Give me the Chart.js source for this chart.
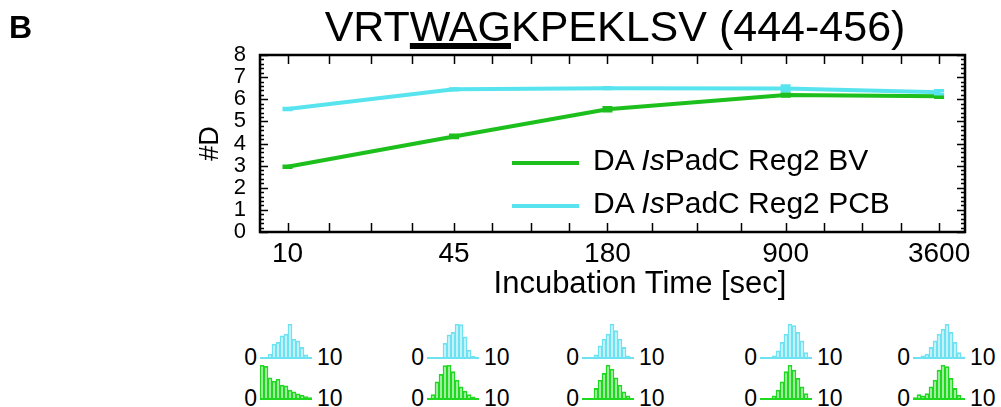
<!DOCTYPE html>
<html>
<head>
<meta charset="utf-8">
<script src="https://cdn.jsdelivr.net/npm/chart.js@4.4.1/dist/chart.umd.min.js"></script>
<style>
  body { margin: 0; background: #fff; font-family: "Liberation Sans", Arial, sans-serif; }
  #wrap { position: relative; width: 1001px; height: 407px; overflow: hidden; background: #fff; }
  #main { position: absolute; left: 0; top: 0; width: 1001px; height: 300px; }
  .t { position: absolute; white-space: nowrap; color: #000; line-height: 1; }
  .hist { position: absolute; }
  .sw { position: absolute; height: 4px; }
  #title u { text-decoration: underline; text-decoration-thickness: 6px; text-underline-offset: 2px; text-decoration-skip-ink: none; }
</style>
</head>
<body>
<div id="wrap">
  <div id="main"><canvas id="chart"></canvas></div>
  <div class="t" style="left:9px;top:11px;font-size:32px;font-weight:bold;">B</div>
  <div class="t" id="title" style="left:615px;top:5px;font-size:43px;transform:translateX(-50%);">VRT<u>WAG</u>KPEKLSV (444-456)</div>
  <div class="t" id="xtitle" style="left:640px;top:267px;font-size:31px;transform:translateX(-50%);">Incubation Time [sec]</div>
  <div id="legend"></div>
  <div id="hists"></div>
</div>
<script>
// données
const times = [10, 45, 180, 900, 3600];
const bvD = [2.95, 4.32, 5.55, 6.19, 6.13];
const bvErr = [0.03, 0.06, 0.08, 0.06, 0.05];
const pcbD = [5.56, 6.45, 6.5, 6.49, 6.32];
const pcbErr = [0.03, 0.03, 0.03, 0.12, 0.08];
const yLabels = [0, 1, 2, 3, 4, 5, 6, 7, 8];

// distributions isotopiques (relatives), une par temps
const histPCB = [
  [0, 0, 0.1, 0.4, 0.45, 0.65, 0.7, 1.0, 0.55, 0.5, 0.3, 0.08, 0],
  [0, 0, 0, 0, 0.42, 0.68, 0.75, 1.0, 0.98, 0.62, 0.22, 0.04, 0],
  [0, 0, 0, 0.08, 0.35, 0.55, 0.7, 1.0, 0.8, 0.55, 0.3, 0.05, 0],
  [0, 0, 0, 0.05, 0.2, 0.45, 0.7, 1.0, 0.95, 0.75, 0.5, 0.15, 0],
  [0, 0, 0.05, 0.1, 0.3, 0.5, 0.7, 0.85, 1.0, 0.75, 0.45, 0.15, 0.02]
];
const histBV = [
  [1.0, 0.96, 0.62, 0.52, 0.58, 0.4, 0.38, 0.25, 0.2, 0.14, 0.1, 0.06, 0.03],
  [0, 0.12, 0.5, 0.72, 0.98, 1.0, 0.8, 0.55, 0.35, 0.22, 0.12, 0.05, 0],
  [0, 0, 0, 0.3, 0.55, 0.75, 1.0, 0.88, 0.62, 0.4, 0.2, 0.08, 0],
  [0, 0, 0, 0.08, 0.25, 0.5, 0.8, 1.0, 0.85, 0.6, 0.35, 0.15, 0],
  [0.03, 0.12, 0.08, 0.15, 0.35, 0.55, 0.85, 1.0, 0.95, 0.6, 0.3, 0.1, 0]
];

const green = "#1dbf1d";
const cyan = "#58e4ee";
const histGreen = "#1fd81f";
const histCyan = "#6fe2f2";

// graduations mineures : 4 intervalles entre deux temps
const xTickValues = [];
for (let i = 0; i < times.length; i++) {
  xTickValues.push(times[i]);
  if (i < times.length - 1) {
    const a = Math.log10(times[i]), b = Math.log10(times[i + 1]);
    for (let k = 1; k < 4; k++) xTickValues.push(Math.pow(10, a + (b - a) * k / 4));
  }
}

const isInt = v => Math.abs(v - Math.round(v)) < 1e-6;

// cadre + graduations vers l'intérieur
const frameTicks = {
  id: "frameTicks",
  afterDatasetsDraw(chart) {
    const { ctx, chartArea: a, scales: { x, y } } = chart;
    ctx.save();
    ctx.strokeStyle = "#000";
    ctx.lineWidth = 1.5;
    ctx.beginPath();
    x.ticks.forEach(t => {
      const px = Math.round(x.getPixelForValue(t.value)) + 0.5;
      ctx.moveTo(px, a.bottom); ctx.lineTo(px, a.bottom - 9);
      ctx.moveTo(px, a.top); ctx.lineTo(px, a.top + 9);
    });
    y.ticks.forEach(t => {
      const py = Math.round(y.getPixelForValue(t.value)) + 0.5;
      const len = isInt(t.value) ? 8 : 4;
      ctx.moveTo(a.left, py); ctx.lineTo(a.left + len, py);
      ctx.moveTo(a.right, py); ctx.lineTo(a.right - len, py);
    });
    ctx.stroke();
    ctx.lineWidth = 2.5;
    ctx.strokeRect(a.left, a.top, a.width, a.height);
    ctx.restore();
  }
};

// barres d'erreur
const errorBars = {
  id: "errorBars",
  afterDatasetsDraw(chart) {
    const { ctx, scales: { x, y } } = chart;
    ctx.save();
    chart.data.datasets.forEach(ds => {
      ctx.strokeStyle = ds.borderColor;
      ctx.lineWidth = 3;
      ds.data.forEach((p, i) => {
        const e = ds.errors[i];
        const px = x.getPixelForValue(p.x);
        const y1 = y.getPixelForValue(p.y - e), y2 = y.getPixelForValue(p.y + e);
        ctx.beginPath();
        ctx.moveTo(px, y1); ctx.lineTo(px, y2);
        ctx.moveTo(px - 5, y1); ctx.lineTo(px + 5, y1);
        ctx.moveTo(px - 5, y2); ctx.lineTo(px + 5, y2);
        ctx.stroke();
      });
    });
    ctx.restore();
  }
};

new Chart(document.getElementById("chart"), {
  type: "line",
  data: {
    datasets: [
      {
        label: "DA IsPadC Reg2 BV",
        data: times.map((t, i) => ({ x: t, y: bvD[i] })),
        errors: bvErr,
        borderColor: green,
        borderWidth: 4,
        pointRadius: 0,
        tension: 0
      },
      {
        label: "DA IsPadC Reg2 PCB",
        data: times.map((t, i) => ({ x: t, y: pcbD[i] })),
        errors: pcbErr,
        borderColor: cyan,
        borderWidth: 4,
        pointRadius: 0,
        tension: 0
      }
    ]
  },
  options: {
    responsive: true,
    maintainAspectRatio: false,
    animation: false,
    events: [],
    layout: { padding: { left: 191, top: 55, right: 36, bottom: 0 } },
    plugins: { legend: { display: false }, tooltip: { enabled: false } },
    scales: {
      x: {
        type: "logarithmic",
        min: 7.8,
        max: 4550,
        bounds: "data",
        afterBuildTicks(s) { s.ticks = xTickValues.map(v => ({ value: v })); },
        afterFit(s) { s.height = 68; },
        ticks: {
          autoSkip: false,
          maxRotation: 0,
          padding: 5,
          color: "#000",
          font: { family: "Liberation Sans", size: 28 },
          callback: v => times.includes(v) ? String(v) : ""
        },
        grid: { display: false, drawTicks: false },
        border: { display: false }
      },
      y: {
        min: 0,
        max: 8,
        afterFit(s) { s.width = 69; },
        ticks: {
          stepSize: 0.2,
          autoSkip: false,
          padding: 14,
          color: "#000",
          font: { family: "Liberation Sans", size: 22 },
          callback: v => isInt(v) && yLabels.includes(Math.round(v)) ? String(Math.round(v)) : ""
        },
        grid: { display: false, drawTicks: false },
        border: { display: false },
        title: {
          display: true,
          text: "#D",
          color: "#000",
          font: { family: "Liberation Sans", size: 27 },
          padding: { top: 3, bottom: 0 }
        }
      }
    }
  },
  plugins: [errorBars, frameTicks]
});

// légende
const legend = document.getElementById("legend");
[
  { color: green, lineY: 161, top: 145, html: "DA <i>Is</i>PadC Reg2 BV" },
  { color: cyan, lineY: 204, top: 188, html: "DA <i>Is</i>PadC Reg2 PCB" }
].forEach(r => {
  const sw = document.createElement("div");
  sw.className = "sw";
  sw.style.cssText = `left:512px;top:${r.lineY}px;width:67px;background:${r.color};`;
  legend.appendChild(sw);
  const tx = document.createElement("div");
  tx.className = "t";
  tx.style.cssText = `left:593px;top:${r.top}px;font-size:30px;`;
  tx.innerHTML = r.html;
  legend.appendChild(tx);
});

// petits histogrammes
const histLeft = [260, 427, 582, 760, 913];
const histW = 52, histH = 36;
const rows = [
  { data: histPCB, color: histCyan, base: 357 },
  { data: histBV, color: histGreen, base: 398 }
];
const hists = document.getElementById("hists");

function histChart(canvas, vals, color) {
  new Chart(canvas, {
    type: "bar",
    data: {
      labels: vals.map((_, i) => i),
      datasets: [{
        data: vals,
        backgroundColor: "rgba(255,255,255,0)",
        borderColor: color,
        borderWidth: 1.1,
        borderSkipped: "bottom",
        barPercentage: 1,
        categoryPercentage: 1
      }]
    },
    options: {
      responsive: false,
      animation: false,
      events: [],
      layout: { padding: { left: 0, right: 0, top: 1, bottom: 1.5 } },
      plugins: { legend: { display: false }, tooltip: { enabled: false } },
      scales: {
        x: {
          grid: { display: false, drawTicks: false },
          ticks: { display: false },
          border: { color: color, width: 2 }
        },
        y: { display: false, min: 0, max: 1 }
      }
    }
  });
}

rows.forEach(row => {
  histLeft.forEach((left, i) => {
    const c = document.createElement("canvas");
    c.className = "hist";
    c.width = histW;
    c.height = histH;
    c.style.left = left + "px";
    c.style.top = (row.base - histH + 1.5) + "px";
    hists.appendChild(c);
    histChart(c, row.data[i], row.color);

    const zero = document.createElement("div");
    zero.className = "t";
    zero.style.cssText = `right:${1001 - (left - 3)}px;top:${row.base - 11.3}px;font-size:23px;`;
    zero.textContent = "0";
    hists.appendChild(zero);

    const ten = document.createElement("div");
    ten.className = "t";
    ten.style.cssText = `left:${left + histW + 5}px;top:${row.base - 11.3}px;font-size:23px;`;
    ten.textContent = "10";
    hists.appendChild(ten);
  });
});
</script>
</body>
</html>
